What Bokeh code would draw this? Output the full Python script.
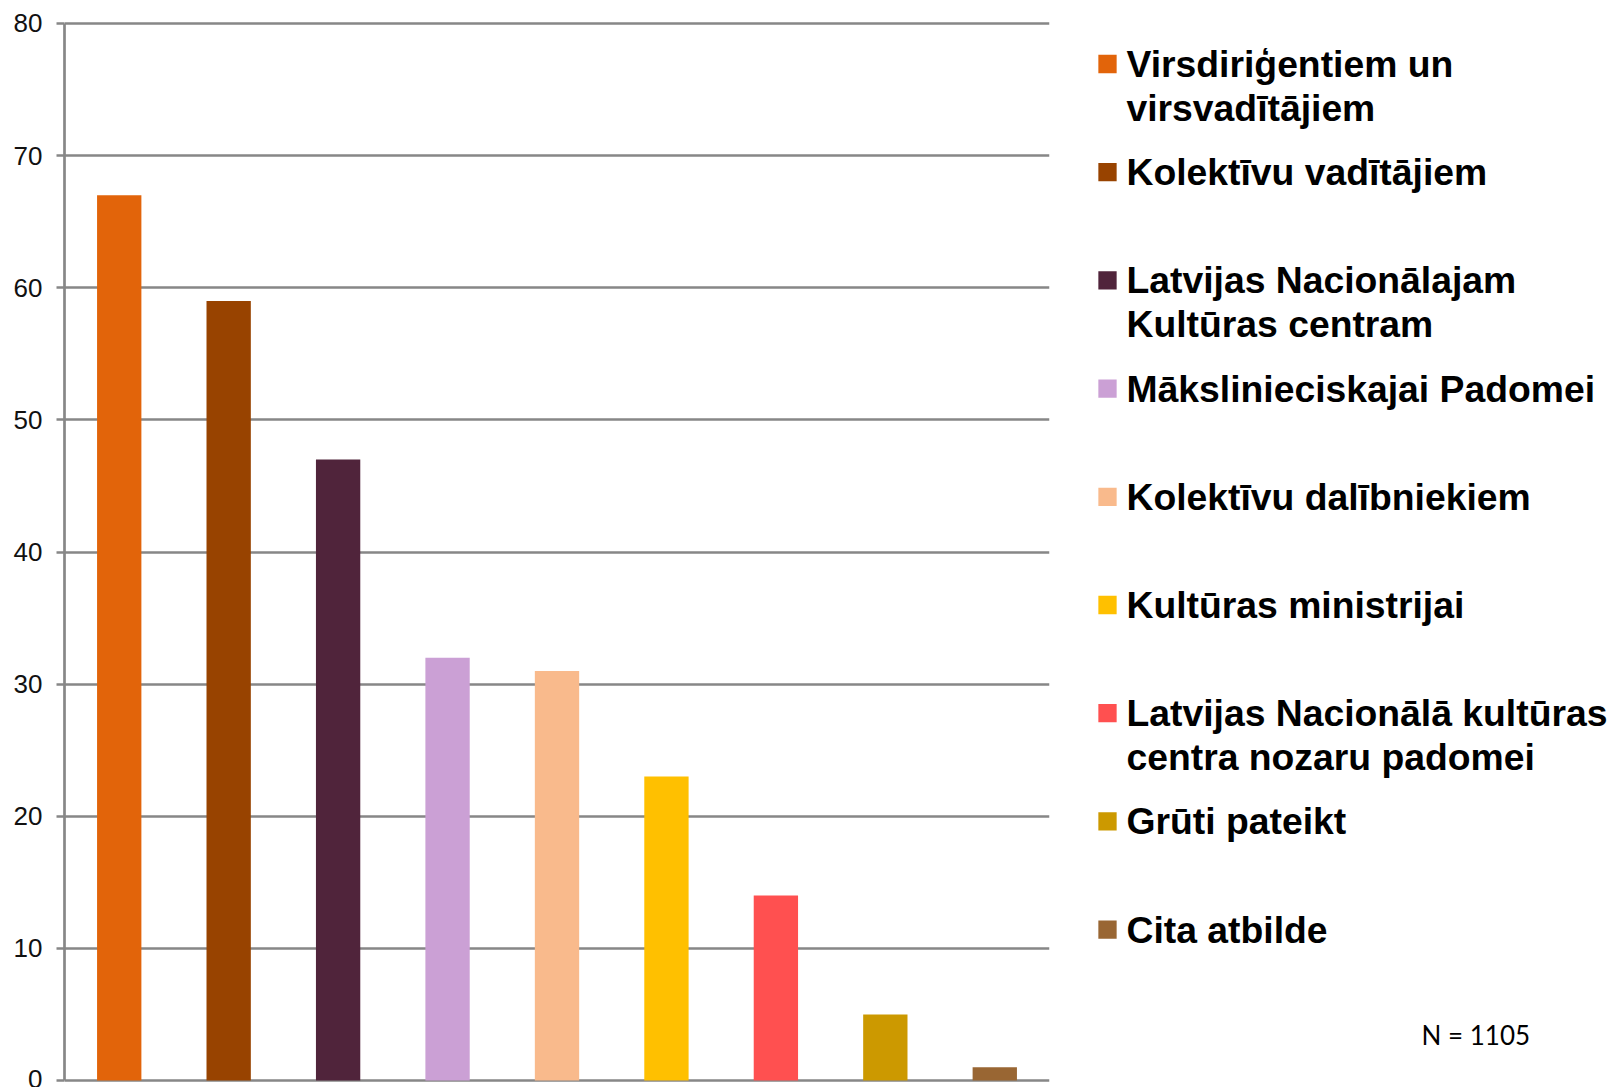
from bokeh.plotting import figure
from bokeh.models import FactorRange, Range1d, FixedTicker, ColumnDataSource
from bokeh.layouts import row
from bokeh.embed import file_html
from bokeh.resources import INLINE
from bokeh.core.properties import value

# ---------------- data ----------------
categories = [
    "Virsdiriģentiem un virsvadītājiem",
    "Kolektīvu vadītājiem",
    "Latvijas Nacionālajam Kultūras centram",
    "Mākslinieciskajai Padomei",
    "Kolektīvu dalībniekiem",
    "Kultūras ministrijai",
    "Latvijas Nacionālā kultūras centra nozaru padomei",
    "Grūti pateikt",
    "Cita atbilde",
]
legend_lines = [
    ["Virsdiriģentiem un", "virsvadītājiem"],
    ["Kolektīvu vadītājiem"],
    ["Latvijas Nacionālajam", "Kultūras centram"],
    ["Mākslinieciskajai Padomei"],
    ["Kolektīvu dalībniekiem"],
    ["Kultūras ministrijai"],
    ["Latvijas Nacionālā kultūras", "centra nozaru padomei"],
    ["Grūti pateikt"],
    ["Cita atbilde"],
]
values = [67, 59, 47, 32, 31, 23, 14, 5, 1]
colors = ["#E2640A", "#984300", "#50243B", "#CBA0D5", "#F9BA8C",
          "#FFC000", "#FF5050", "#CC9900", "#996633"]
y_ticks = [0, 10, 20, 30, 40, 50, 60, 70, 80]
note = "N = 1105"

GRID = "#878787"
W1, W2, H = 1080, 531, 1087
TOP, BOTTOM = 21, 5

# ---------------- bar chart ----------------
p = figure(x_range=FactorRange(*categories), y_range=Range1d(-0.15, 80.15),
           width=W1, height=H, output_backend="svg", toolbar_location=None,
           title_location=None, x_axis_location=None,
           min_border_left=64, min_border_right=31,
           min_border_top=TOP, min_border_bottom=BOTTOM, outline_line_color=None)
src = ColumnDataSource(dict(cat=categories, val=values, color=colors))
p.vbar(x="cat", top="val", width=0.405, source=src, fill_color="color", line_color=None)

p.xgrid.visible = False
p.ygrid.ticker = FixedTicker(ticks=y_ticks)
p.ygrid.grid_line_color = GRID
p.ygrid.grid_line_width = 2.3

ax = p.yaxis[0]
ax.ticker = FixedTicker(ticks=y_ticks)
ax.bounds = (0, 80)
ax.axis_line_color = GRID
ax.axis_line_width = 2.7
ax.major_tick_line_color = GRID
ax.major_tick_line_width = 2.3
ax.major_tick_out = 8
ax.major_tick_in = 0
ax.minor_tick_line_color = None
ax.major_label_text_font = "Liberation Sans"
ax.major_label_text_font_size = "26px"
ax.major_label_text_color = "#111111"
ax.major_label_standoff = 14

# ---------------- legend panel (pixel-like coordinates) ----------------
q = figure(x_range=Range1d(0, W2), y_range=Range1d(H - BOTTOM, TOP), width=W2, height=H,
           output_backend="svg", toolbar_location=None, title_location=None,
           x_axis_location=None, y_axis_location=None,
           min_border_left=0, min_border_right=0,
           min_border_top=TOP, min_border_bottom=BOTTOM,
           outline_line_color=None)
q.grid.visible = False

first_y = 63.5
step = 108.2
mx = [27] * len(categories)
my = [first_y + i * step for i in range(len(categories))]
q.rect(x=mx, y=my, width=18.3, height=18.3, fill_color=colors, line_color=None)

tx, ty, tt = [], [], []
for i, lines in enumerate(legend_lines):
    for j, line in enumerate(lines):
        tx.append(46)
        ty.append(my[i] + j * 43.5)
        tt.append(line)
q.text(x=tx, y=ty, text=tt, text_font=value("Liberation Sans"), text_font_style="bold",
       text_font_size="37.3px", text_baseline="middle", text_align="left",
       text_color="#000000")

q.text(x=[341], y=[1034.5], text=[note], text_font=value("Lato"),
       text_font_size="26px", text_baseline="middle", text_align="left",
       text_color="#000000")

layout = row(p, q)
open("out.html", "w").write(file_html(layout, INLINE))
